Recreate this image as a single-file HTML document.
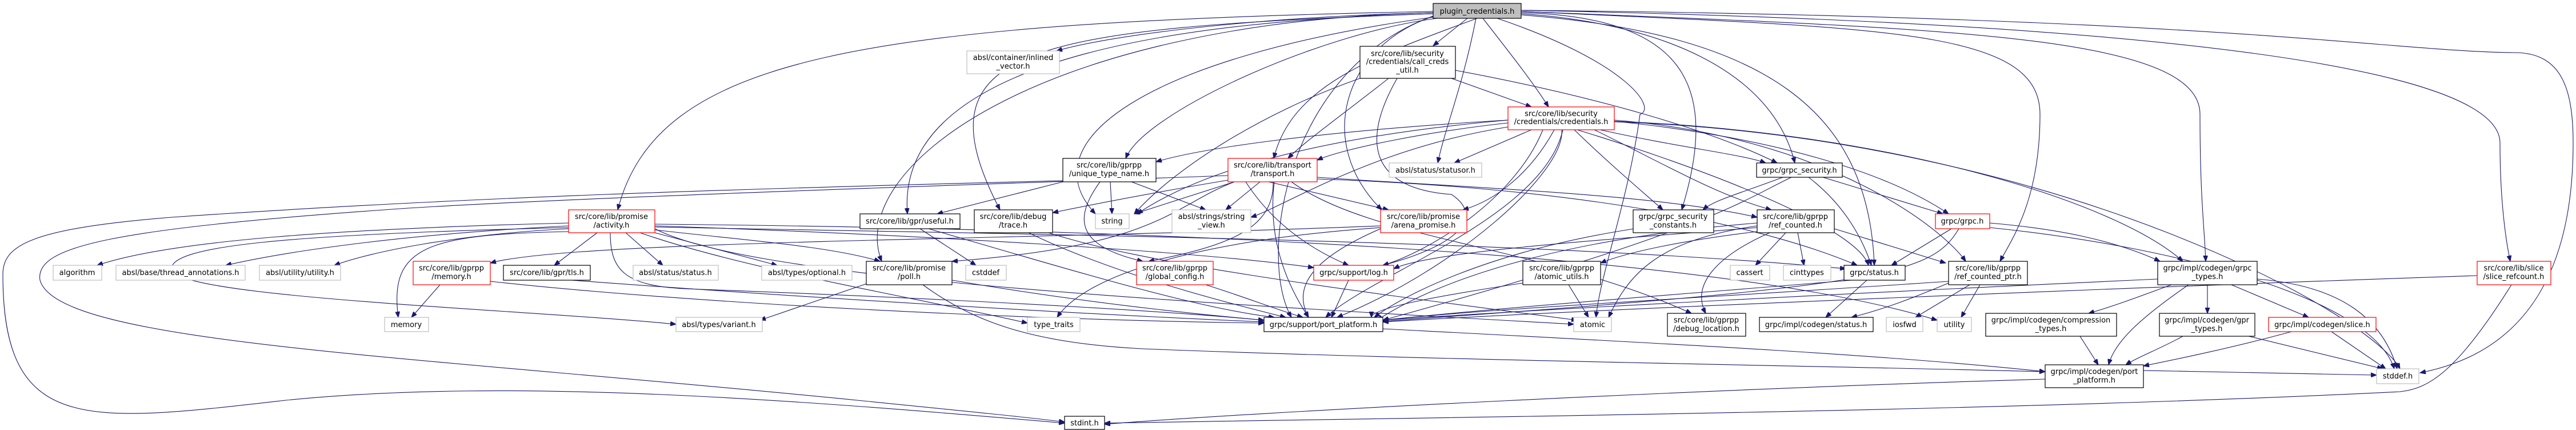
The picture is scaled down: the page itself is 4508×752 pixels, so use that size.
<!DOCTYPE html>
<html><head><meta charset="utf-8"><style>
html,body{margin:0;padding:0;background:#fff;width:4508px;height:752px;overflow:hidden}
svg{display:block}
text{font-family:"DejaVu Sans","Liberation Sans",sans-serif;font-size:13px;fill:#000;text-anchor:middle}
.e{fill:none;stroke:#191970;stroke-width:1.1;marker-end:url(#a)}
.k{fill:#fff;stroke:#000;stroke-width:1.2}
.g{fill:#fff;stroke:#bfbfbf;stroke-width:1.2}
.r{fill:#fff;stroke:#ff0000;stroke-width:1.2}
.p{fill:#bfbfbf;stroke:#000;stroke-width:1.2}
</style></head><body>
<svg width="4508" height="752" viewBox="0 0 4508 752" xmlns="http://www.w3.org/2000/svg">
<defs><marker id="a" markerUnits="userSpaceOnUse" markerWidth="11" markerHeight="8" refX="10" refY="4" orient="auto"><path d="M0,0 L10,4 L0,8 z" fill="#191970" stroke="#191970"/></marker></defs>
<g>
<!-- plugin_credentials edges -->
<path class="e" d="M2508,20 C1500,40 1150,100 1081,367"/>
<path class="e" d="M2508,22 C2200,30 1950,60 1849,89"/>
<path class="e" d="M2508,24 C1900,40 1570,150 1588,374"/>
<path class="e" d="M2508,24 C1800,50 1600,80 1750,367"/>
<path class="e" d="M2508,22 C1800,40 1480,300 1543,457"/>
<path class="e" d="M2515,32 C2300,60 2000,200 1970,277"/>
<path class="e" d="M2508,30 C2000,100 1800,250 1917,374"/>
<path class="e" d="M2585,32 C2400,100 2260,150 2229,277"/>
<path class="e" d="M2568,32 L2508,80"/>
<path class="e" d="M2583,32 C2560,150 2530,220 2516,285"/>
<path class="e" d="M2595,32 C2640,90 2680,140 2710,187"/>
<path class="e" d="M2510,28 C2350,80 2300,250 2418,367"/>
<path class="e" d="M2620,32 C2850,110 2900,190 2870,200 C2850,350 2800,480 2793,555"/>
<path class="e" d="M2662,22 C2950,30 3010,150 2943,367"/>
<path class="e" d="M2662,24 C2900,40 3100,120 3141,285"/>
<path class="e" d="M2662,26 C3100,60 3270,200 3280,464"/>
<path class="e" d="M2662,20 C3300,50 3570,50 3570,200 C3570,350 3520,420 3500,457"/>
<path class="e" d="M2662,20 C3400,50 3850,60 3850,200 C3850,350 3858,400 3860,457"/>
<path class="e" d="M2662,18 C3800,40 4375,120 4375,250 C4375,350 4385,420 4393,457"/>
<path class="e" d="M2662,18 C3900,30 4180,90 4400,92 C4480,92 4503,150 4503,250 C4503,500 4400,620 4235,652"/>
<path class="e" d="M2508,28 C2250,120 2200,450 2260,555"/>
<!-- call_creds_util -->
<path class="e" d="M2430,137 C2350,200 2280,250 2254,277"/>
<path class="e" d="M2540,137 L2680,187"/>
<path class="e" d="M2380,137 C2200,200 2050,300 1985,374"/>
<path class="e" d="M2445,137 C2380,250 2400,330 2540,340 C2600,380 2550,430 2420,464"/>
<path class="e" d="M2547,123 C2800,170 3000,230 3110,285"/>
<!-- credentials -->
<path class="e" d="M2639,215 C2500,230 2350,260 2305,280"/>
<path class="e" d="M2680,227 L2545,285"/>
<path class="e" d="M2720,227 C2680,300 2620,350 2560,367"/>
<path class="e" d="M2735,227 C2700,380 2400,480 2320,555"/>
<path class="e" d="M2733,227 C2740,300 2550,470 2340,555"/>
<path class="e" d="M2755,227 C2820,290 2880,340 2910,367"/>
<path class="e" d="M2800,227 C2950,260 3050,270 3090,285"/>
<path class="e" d="M2790,227 C2900,280 3000,340 3100,367"/>
<path class="e" d="M2825,212 C3100,240 3300,300 3410,374"/>
<path class="e" d="M2825,210 C3200,240 3400,400 3440,457"/>
<path class="e" d="M2825,212 C3300,230 3700,350 3820,457"/>
<path class="e" d="M2825,213 C3600,240 4150,550 4200,645"/>
<path class="e" d="M2639,210 C2300,240 2100,300 1990,374"/>
<path class="e" d="M2639,222 C2400,260 2250,360 2189,380"/>
<path class="e" d="M2700,227 C2650,350 2500,440 2420,464"/>
<path class="e" d="M2639,210 C2300,230 2100,260 2023,283"/>
<path class="e" d="M2760,227 C3000,300 3250,400 3270,464"/>
<!-- unique_type_name -->
<path class="e" d="M1860,318 L1640,374"/>
<path class="e" d="M1943,318 L1946,374"/>
<path class="e" d="M1980,318 L2110,367"/>
<path class="e" d="M1925,318 C1880,380 1880,430 2000,457"/>
<path class="e" d="M1860,316 C1300,330 800,345 300,380 C50,400 5,430 5,480 C5,760 150,740 500,700 C900,660 1400,700 1863,740"/>
<!-- transport -->
<path class="e" d="M2149,307 C1800,320 1000,345 700,365 C200,400 60,430 70,490 C100,600 700,620 1500,700 C1700,720 1800,730 1863,738"/>
<path class="e" d="M2160,318 L1985,374"/>
<path class="e" d="M2205,318 L2145,367"/>
<path class="e" d="M2149,315 C2000,340 1900,360 1842,372"/>
<path class="e" d="M2160,318 C2050,360 2030,430 1666,457"/>
<path class="e" d="M2180,318 C2220,380 2280,430 2360,464"/>
<path class="e" d="M2220,318 L2430,367"/>
<path class="e" d="M2230,318 C2220,400 2240,480 2290,555"/>
<path class="e" d="M2228,318 C2230,400 2150,430 2010,457"/>
<path class="e" d="M2305,310 C2600,330 2900,340 3075,380"/>
<path class="e" d="M2260,318 C2400,420 2700,430 2960,548"/>
<path class="e" d="M2305,313 C2800,330 3100,400 3250,464"/>
<!-- activity -->
<path class="e" d="M995,390 C600,400 300,420 170,464"/>
<path class="e" d="M995,395 C700,410 500,440 395,464"/>
<path class="e" d="M995,400 C800,410 650,440 585,464"/>
<path class="e" d="M995,405 C750,410 680,430 697,555"/>
<path class="e" d="M1045,407 L970,464"/>
<path class="e" d="M1095,407 L1160,464"/>
<path class="e" d="M1146,407 L1360,464"/>
<path class="e" d="M1068,407 C1068,470 1090,500 1200,505 C1600,520 2000,540 2212,560"/>
<path class="e" d="M995,398 C500,410 300,430 300,470 C300,520 900,540 1183,567"/>
<path class="e" d="M1146,402 C1300,420 1450,430 1540,457"/>
<path class="e" d="M1146,395 C1600,410 2100,440 2299,468"/>
<path class="e" d="M1146,400 C1300,480 1900,520 2754,567"/>
<path class="e" d="M1120,407 C1300,470 1600,520 1798,565"/>
<path class="e" d="M1146,397 C1800,410 2700,420 3230,470"/>
<path class="e" d="M1146,392 C2000,400 3000,440 3390,560"/>
<!-- memory/tls/poll/useful/trace -->
<path class="e" d="M770,498 L720,555"/>
<path class="e" d="M858,492 C1200,530 1800,560 2212,565"/>
<path class="e" d="M1000,490 C1400,520 1900,550 2212,563"/>
<path class="e" d="M1666,490 C1900,530 2100,550 2212,560"/>
<path class="e" d="M1520,495 L1330,560"/>
<path class="e" d="M1615,498 C1700,560 1800,600 2000,610 C2500,630 3200,640 3579,650"/>
<path class="e" d="M1610,400 L1708,464"/>
<path class="e" d="M1625,400 C1900,480 2100,540 2230,555"/>
<path class="e" d="M1800,407 C1950,480 2150,530 2250,555"/>
<path class="e" d="M1835,407 C2000,460 2300,500 2760,560"/>
<path class="e" d="M2110,498 C2180,520 2230,540 2280,555"/>
<path class="e" d="M2360,490 L2330,555"/>
<!-- arena -->
<path class="e" d="M2416,400 C2300,450 2260,500 2290,555"/>
<path class="e" d="M2416,395 C1800,420 1000,420 858,460"/>
<path class="e" d="M2416,398 C2100,420 1900,480 1850,555"/>
<!-- atomic_utils / gsc / ref_counted -->
<path class="e" d="M2745,498 L2780,555"/>
<path class="e" d="M2665,495 C2500,520 2400,540 2400,555"/>
<path class="e" d="M2860,400 C2600,440 2450,520 2405,555"/>
<path class="e" d="M3075,390 C2700,420 2500,500 2410,560"/>
<path class="e" d="M3125,407 L3072,464"/>
<path class="e" d="M3146,407 L3157,464"/>
<path class="e" d="M3097,407 C3000,450 2960,500 2985,548"/>
<path class="e" d="M3210,400 L3405,460"/>
<path class="e" d="M3075,395 C2900,420 2850,480 2815,555"/>
<path class="e" d="M3075,405 C2950,420 2850,440 2801,460"/>
<path class="e" d="M3075,398 C2800,420 2500,440 2439,470"/>
<!-- grpc_security / grpc.h / status -->
<path class="e" d="M3120,310 C3040,340 3000,350 2980,367"/>
<path class="e" d="M3165,310 C3230,360 3260,420 3275,464"/>
<path class="e" d="M3190,310 L3400,374"/>
<path class="e" d="M3135,310 C3050,350 3000,400 2420,560"/>
<path class="e" d="M3415,400 L3310,464"/>
<path class="e" d="M3428,400 C3380,480 3300,500 2420,562"/>
<path class="e" d="M3482,390 C3600,400 3700,420 3780,457"/>
<path class="e" d="M3482,398 C3800,430 4150,520 4190,645"/>
<path class="e" d="M3267,490 L3195,555"/>
<path class="e" d="M3240,490 C3000,510 2600,540 2420,560"/>
<!-- ref_counted_ptr -->
<path class="e" d="M3447,498 L3352,555"/>
<path class="e" d="M3465,498 L3432,555"/>
<path class="e" d="M3410,492 C3000,520 2600,540 2420,560"/>
<path class="e" d="M3410,495 C3350,520 3300,540 3240,555"/>
<!-- grpc_types etc -->
<path class="e" d="M3863,498 L3863,548"/>
<path class="e" d="M3905,498 L4040,555"/>
<path class="e" d="M3950,488 C4100,500 4170,560 4195,645"/>
<path class="e" d="M3830,498 C3740,560 3700,600 3690,638"/>
<path class="e" d="M3776,488 C3300,510 2700,540 2420,560"/>
<path class="e" d="M3800,498 C3740,520 3700,535 3655,548"/>
<path class="e" d="M3820,588 C3780,610 3740,625 3720,638"/>
<path class="e" d="M3935,588 L4170,645"/>
<path class="e" d="M4010,580 C3900,610 3800,630 3751,640"/>
<path class="e" d="M4080,580 L4175,645"/>
<path class="e" d="M4335,482 C3800,500 2800,540 2420,563"/>
<path class="e" d="M4395,498 C4300,650 4250,680 4200,685 C3500,720 2500,730 1933,740"/>
<path class="e" d="M3640,588 L3672,638"/>
<path class="e" d="M3579,663 C3000,680 2200,720 1933,742"/>
<path class="e" d="M2420,575 C2900,600 3300,620 3579,650"/>
<path class="e" d="M3751,648 C3900,650 4050,653 4159,656"/>
</g>
<g>
<rect class="p" x="2508" y="6" width="154" height="26"/><text x="2585" y="24">plugin_credentials.h</text>
<rect class="g" x="1692" y="89" width="162" height="40"/><text x="1773" y="105">absl/container/inlined</text><text x="1773" y="120">_vector.h</text>
<rect class="k" x="2380" y="81" width="167" height="56"/><text x="2463" y="98">src/core/lib/security</text><text x="2463" y="112">/credentials/call_creds</text><text x="2463" y="127">_util.h</text>
<rect class="r" x="2639" y="187" width="186" height="40"/><text x="2732" y="203">src/core/lib/security</text><text x="2732" y="217">/credentials/credentials.h</text>
<rect class="k" x="1860" y="277" width="163" height="41"/><text x="1941" y="293">src/core/lib/gprpp</text><text x="1941" y="308">/unique_type_name.h</text>
<rect class="r" x="2149" y="277" width="156" height="41"/><text x="2227" y="293">src/core/lib/transport</text><text x="2227" y="308">/transport.h</text>
<rect class="g" x="2431" y="285" width="162" height="25"/><text x="2512" y="302">absl/status/statusor.h</text>
<rect class="k" x="3074" y="285" width="150" height="25"/><text x="3149" y="302">grpc/grpc_security.h</text>
<rect class="r" x="995" y="367" width="151" height="40"/><text x="1070" y="383">src/core/lib/promise</text><text x="1070" y="398">/activity.h</text>
<rect class="k" x="1505" y="374" width="175" height="26"/><text x="1592" y="391">src/core/lib/gpr/useful.h</text>
<rect class="k" x="1705" y="367" width="137" height="40"/><text x="1773" y="383">src/core/lib/debug</text><text x="1773" y="398">/trace.h</text>
<rect class="g" x="1917" y="374" width="59" height="26"/><text x="1946" y="391">string</text>
<rect class="g" x="2051" y="367" width="138" height="40"/><text x="2120" y="383">absl/strings/string</text><text x="2120" y="398">_view.h</text>
<rect class="r" x="2416" y="367" width="151" height="40"/><text x="2491" y="383">src/core/lib/promise</text><text x="2491" y="398">/arena_promise.h</text>
<rect class="k" x="2858" y="367" width="141" height="40"/><text x="2928" y="383">grpc/grpc_security</text><text x="2928" y="398">_constants.h</text>
<rect class="k" x="3075" y="367" width="135" height="40"/><text x="3142" y="383">src/core/lib/gprpp</text><text x="3142" y="398">/ref_counted.h</text>
<rect class="r" x="3387" y="374" width="95" height="26"/><text x="3434" y="391">grpc/grpc.h</text>
<rect class="g" x="93" y="464" width="85" height="26"/><text x="135" y="481">algorithm</text>
<rect class="g" x="203" y="464" width="226" height="26"/><text x="316" y="481">absl/base/thread_annotations.h</text>
<rect class="g" x="454" y="464" width="142" height="26"/><text x="525" y="481">absl/utility/utility.h</text>
<rect class="r" x="723" y="457" width="135" height="41"/><text x="790" y="473">src/core/lib/gprpp</text><text x="790" y="488">/memory.h</text>
<rect class="k" x="881" y="464" width="152" height="26"/><text x="957" y="481">src/core/lib/gpr/tls.h</text>
<rect class="g" x="1108" y="464" width="149" height="26"/><text x="1182" y="481">absl/status/status.h</text>
<rect class="g" x="1333" y="464" width="158" height="26"/><text x="1412" y="481">absl/types/optional.h</text>
<rect class="k" x="1516" y="457" width="150" height="41"/><text x="1591" y="473">src/core/lib/promise</text><text x="1591" y="488">/poll.h</text>
<rect class="g" x="1690" y="464" width="71" height="26"/><text x="1725" y="481">cstddef</text>
<rect class="r" x="1989" y="457" width="134" height="41"/><text x="2056" y="473">src/core/lib/gprpp</text><text x="2056" y="488">/global_config.h</text>
<rect class="r" x="2299" y="464" width="140" height="26"/><text x="2369" y="481">grpc/support/log.h</text>
<rect class="k" x="2665" y="457" width="136" height="41"/><text x="2733" y="473">src/core/lib/gprpp</text><text x="2733" y="488">/atomic_utils.h</text>
<rect class="g" x="3028" y="464" width="69" height="26"/><text x="3062" y="481">cassert</text>
<rect class="g" x="3121" y="464" width="83" height="26"/><text x="3162" y="481">cinttypes</text>
<rect class="k" x="3227" y="464" width="107" height="26"/><text x="3280" y="481">grpc/status.h</text>
<rect class="k" x="3410" y="457" width="138" height="41"/><text x="3479" y="473">src/core/lib/gprpp</text><text x="3479" y="488">/ref_counted_ptr.h</text>
<rect class="k" x="3776" y="457" width="174" height="41"/><text x="3863" y="473">grpc/impl/codegen/grpc</text><text x="3863" y="488">_types.h</text>
<rect class="r" x="4335" y="457" width="129" height="41"/><text x="4399" y="473">src/core/lib/slice</text><text x="4399" y="488">/slice_refcount.h</text>
<rect class="g" x="673" y="555" width="77" height="25"/><text x="711" y="572">memory</text>
<rect class="g" x="1183" y="555" width="151" height="25"/><text x="1258" y="572">absl/types/variant.h</text>
<rect class="g" x="1798" y="555" width="92" height="25"/><text x="1844" y="572">type_traits</text>
<rect class="k" x="2212" y="555" width="208" height="25"/><text x="2316" y="572">grpc/support/port_platform.h</text>
<rect class="g" x="2754" y="555" width="66" height="25"/><text x="2787" y="572">atomic</text>
<rect class="k" x="2918" y="548" width="137" height="40"/><text x="2986" y="564">src/core/lib/gprpp</text><text x="2986" y="579">/debug_location.h</text>
<rect class="k" x="3079" y="555" width="199" height="25"/><text x="3178" y="572">grpc/impl/codegen/status.h</text>
<rect class="g" x="3301" y="555" width="64" height="25"/><text x="3333" y="572">iosfwd</text>
<rect class="g" x="3390" y="555" width="60" height="25"/><text x="3420" y="572">utility</text>
<rect class="k" x="3475" y="548" width="229" height="40"/><text x="3589" y="564">grpc/impl/codegen/compression</text><text x="3589" y="579">_types.h</text>
<rect class="k" x="3779" y="548" width="167" height="40"/><text x="3862" y="564">grpc/impl/codegen/gpr</text><text x="3862" y="579">_types.h</text>
<rect class="r" x="3970" y="555" width="188" height="25"/><text x="4064" y="572">grpc/impl/codegen/slice.h</text>
<rect class="k" x="3579" y="638" width="172" height="40"/><text x="3665" y="654">grpc/impl/codegen/port</text><text x="3665" y="669">_platform.h</text>
<rect class="g" x="4159" y="645" width="74" height="26"/><text x="4196" y="662">stddef.h</text>
<rect class="k" x="1863" y="728" width="70" height="23"/><text x="1898" y="744">stdint.h</text>
</g>
</svg>
</body></html>
